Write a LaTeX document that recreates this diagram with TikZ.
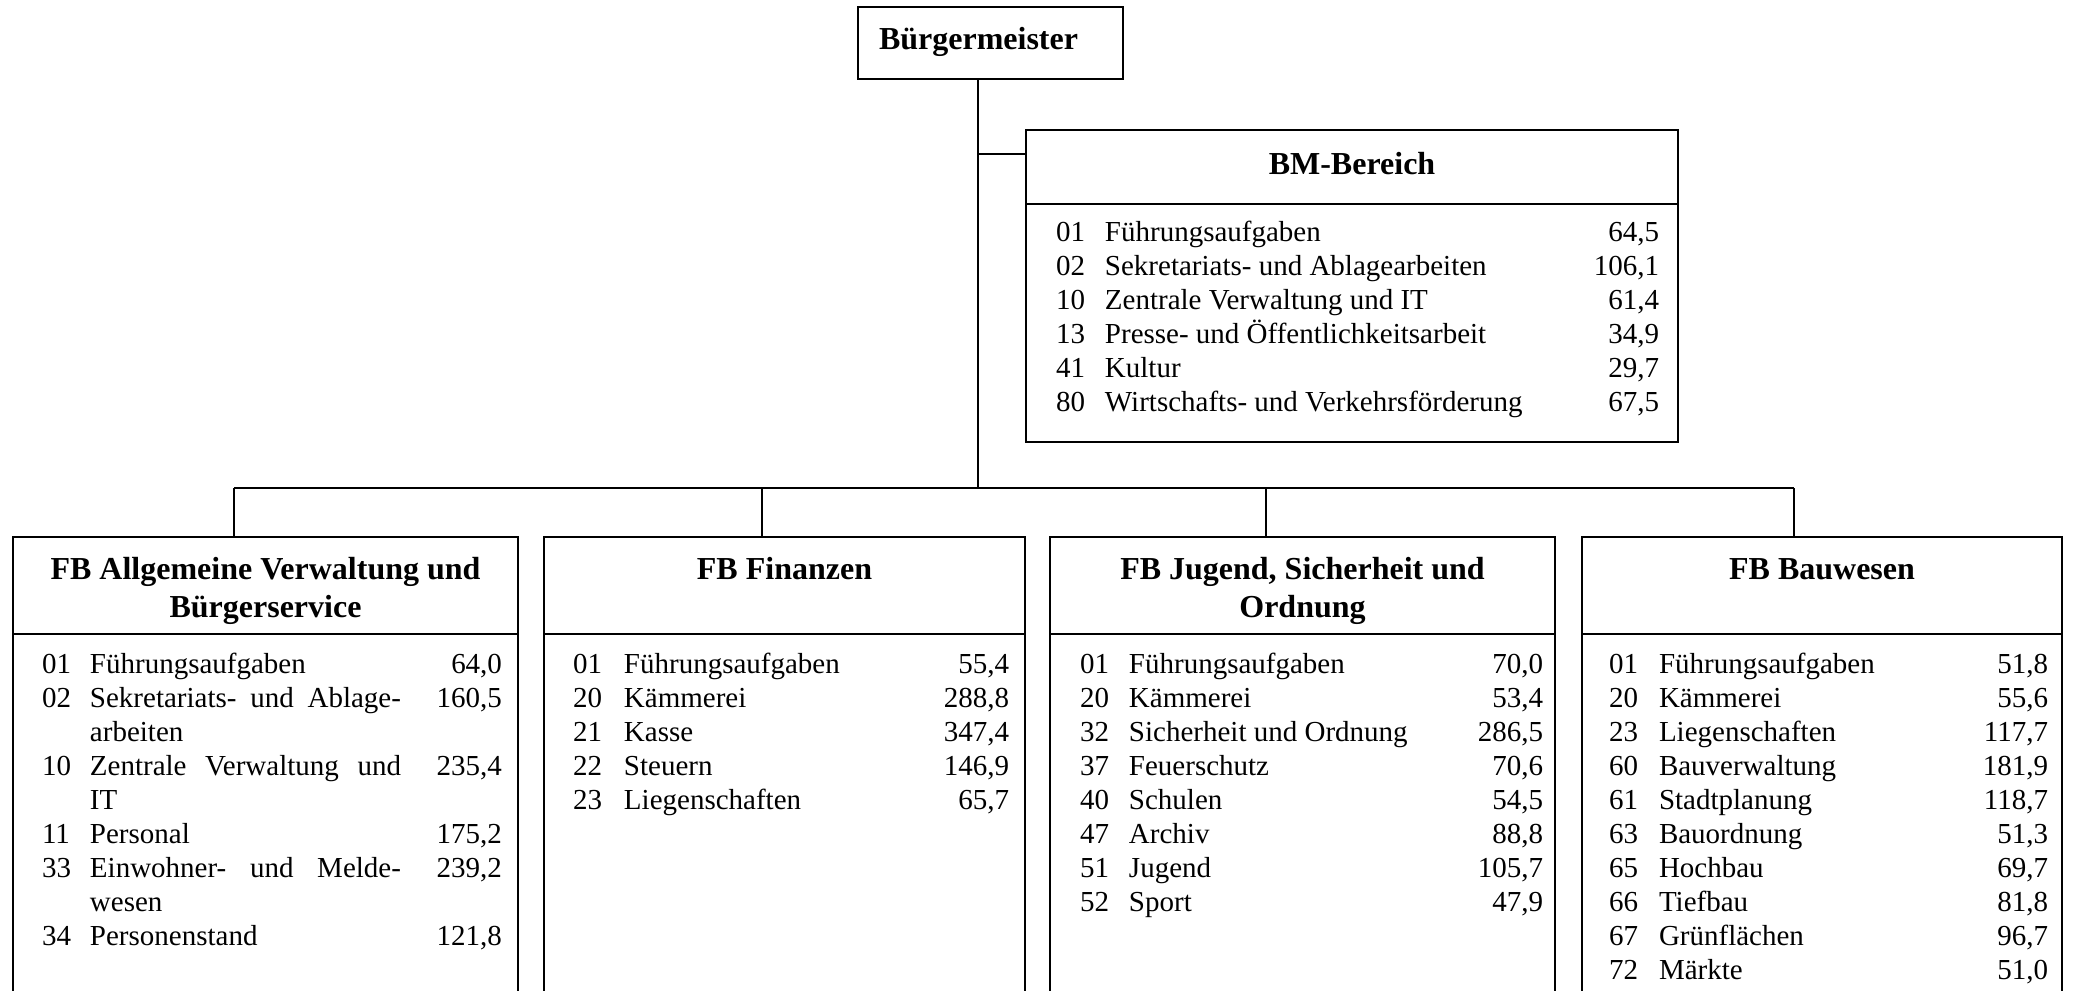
\documentclass[tikz,border=0pt]{standalone}
\usepackage{fontspec}
\setmainfont{Liberation Serif}
\usepackage{array}
\newcolumntype{R}[1]{>{\raggedleft\arraybackslash}p{#1}}
\newcommand\xbody{\fontsize{14.5}{17}\selectfont}
\newcommand\xbodybm{\fontsize{14.5}{17}\selectfont}
\newcommand\xhead{\fontsize{16}{19}\selectfont\bfseries}
\begin{document}
\begin{tikzpicture}[x=0.5pt,y=-0.5pt,line width=0.8pt,
  box/.style={draw,rectangle,inner sep=0pt,outer sep=0pt,anchor=north west},
  lbl/.style={inner sep=0pt,outer sep=0pt,anchor=base west},
  ttl/.style={inner sep=0pt,outer sep=0pt,anchor=base,font=\xhead}]
\useasboundingbox (0,0) rectangle (2074,991);
\fill[white] (0,0) rectangle (2074,991);

% Bürgermeister
\node[box,minimum width=132.5pt,minimum height=36pt] (bgm) at (858,7) {};
\node[lbl,font=\xhead] (bgmt) at (879,49) {Bürgermeister};

% BM-Bereich
\node[box,minimum width=326pt,minimum height=156pt] (bmb) at (1026,130) {};
\draw ([yshift=-37pt]bmb.north west) -- ([yshift=-37pt]bmb.north east);
\node[ttl] (bmt) at (1352,174) {BM-Bereich};
\node[lbl,font=\xbodybm] (bmr) at (1056,241) {\begin{tabular}[t]{@{}p{24.5pt}@{}p{220pt}@{}R{57pt}@{}}
01 & Führungsaufgaben & 64,5\\
02 & Sekretariats- und Ablagearbeiten & 106,1\\
10 & Zentrale Verwaltung und IT & 61,4\\
13 & Presse- und Öffentlichkeitsarbeit & 34,9\\
41 & Kultur & 29,7\\
80 & Wirtschafts- und Verkehrsförderung & 67,5
\end{tabular}};

% lower boxes
\node[box,minimum width=252.5pt,minimum height=232pt] (b1) at (13,537) {};
\node[box,minimum width=240.5pt,minimum height=232pt] (b2) at (544,537) {};
\node[box,minimum width=252.5pt,minimum height=232pt] (b3) at (1050,537) {};
\node[box,minimum width=240pt,minimum height=232pt] (b4) at (1582,537) {};
\foreach \b in {b1,b2,b3,b4}{
  \draw ([yshift=-48.5pt]\b.north west) -- ([yshift=-48.5pt]\b.north east);
}

\node[ttl] (t1) at (265.5,579) {\begin{tabular}[t]{@{}c@{}}FB Allgemeine Verwaltung und\\Bürgerservice\end{tabular}};
\node[ttl] (t2) at (784.5,579) {FB Finanzen};
\node[ttl] (t3) at (1302.5,579) {\begin{tabular}[t]{@{}c@{}}FB Jugend, Sicherheit und\\Ordnung\end{tabular}};
\node[ttl] (t4) at (1822,579) {FB Bauwesen};

\node[lbl,font=\xbody] (r1) at (42,673) {\begin{tabular}[t]{@{}p{24pt}@{}p{155.5pt}@{}R{50.5pt}@{}}
01 & Führungsaufgaben & 64,0\\
02 & Sekretariats- und Ablage-\linebreak arbeiten & 160,5\\
10 & Zentrale Verwaltung und\linebreak IT & 235,4\\
11 & Personal & 175,2\\
33 & Einwohner- und Melde-\linebreak wesen & 239,2\\
34 & Personenstand & 121,8
\end{tabular}};

\node[lbl,font=\xbody] (r2) at (573,673) {\begin{tabular}[t]{@{}p{25.5pt}@{}p{140pt}@{}R{52.5pt}@{}}
01 & Führungsaufgaben & 55,4\\
20 & Kämmerei & 288,8\\
21 & Kasse & 347,4\\
22 & Steuern & 146,9\\
23 & Liegenschaften & 65,7
\end{tabular}};

\node[lbl,font=\xbody] (r3) at (1080,673) {\begin{tabular}[t]{@{}p{24.5pt}@{}p{150pt}@{}R{57pt}@{}}
01 & Führungsaufgaben & 70,0\\
20 & Kämmerei & 53,4\\
32 & Sicherheit und Ordnung & 286,5\\
37 & Feuerschutz & 70,6\\
40 & Schulen & 54,5\\
47 & Archiv & 88,8\\
51 & Jugend & 105,7\\
52 & Sport & 47,9
\end{tabular}};

\node[lbl,font=\xbody] (r4) at (1609,673) {\begin{tabular}[t]{@{}p{25pt}@{}p{140pt}@{}R{54.5pt}@{}}
01 & Führungsaufgaben & 51,8\\
20 & Kämmerei & 55,6\\
23 & Liegenschaften & 117,7\\
60 & Bauverwaltung & 181,9\\
61 & Stadtplanung & 118,7\\
63 & Bauordnung & 51,3\\
65 & Hochbau & 69,7\\
66 & Tiefbau & 81,8\\
67 & Grünflächen & 96,7\\
72 & Märkte & 51,0
\end{tabular}};

% connectors
\coordinate (trunk) at (978,488);
\coordinate (bmj) at (978,154);
\coordinate (d1) at (234,488);
\coordinate (d2) at (762,488);
\coordinate (d3) at (1266,488);
\coordinate (d4) at (1794,488);
\draw (bgm.south -| trunk) -- (trunk);
\draw (bmj) -- (bmj -| bmb.west);
\draw (d1) -- (d4);
\draw (d1) -- (d1 |- b1.north);
\draw (d2) -- (d2 |- b2.north);
\draw (d3) -- (d3 |- b3.north);
\draw (d4) -- (d4 |- b4.north);
\end{tikzpicture}
\end{document}
